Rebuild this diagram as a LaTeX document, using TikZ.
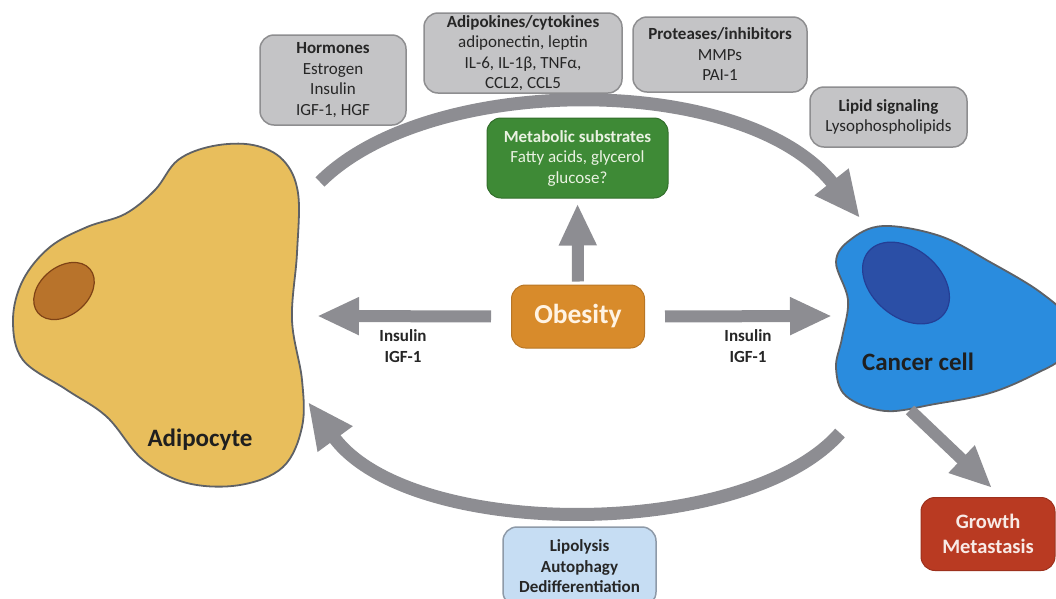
\documentclass[tikz,border=0pt]{standalone}
\usepackage{fontspec}
\setmainfont{Carlito}
\usetikzlibrary{arrows.meta}

\definecolor{arrowgray}{HTML}{8D8D92}
\definecolor{boxgray}{HTML}{C4C4C6}
\definecolor{boxedge}{HTML}{8E8E90}
\definecolor{textdark}{HTML}{262626}
\definecolor{adipofill}{HTML}{E8BE5C}
\definecolor{celledge}{HTML}{5E6166}
\definecolor{adiponuc}{HTML}{B8732B}
\definecolor{adiponucedge}{HTML}{7E4216}
\definecolor{cancerfill}{HTML}{2A8CDE}
\definecolor{cancernuc}{HTML}{2B4FA6}
\definecolor{cancernucedge}{HTML}{243E95}
\definecolor{greenbox}{HTML}{3E8A36}
\definecolor{greentext}{HTML}{EAF2E2}
\definecolor{orangebox}{HTML}{D88B2B}
\definecolor{orangetext}{HTML}{FFF3E3}
\definecolor{redbox}{HTML}{B93A22}
\definecolor{redtext}{HTML}{F8EAE6}
\definecolor{bluebox}{HTML}{C6DDF3}
\definecolor{blueedge}{HTML}{8E9AA8}

\begin{document}
\begin{tikzpicture}[x=1pt,y=-1pt,
  smalltext/.style={font=\fontsize{17}{20.5}\selectfont},
  smallbold/.style={font=\fontsize{17}{20.5}\selectfont\bfseries},
  infobox/.style={smalltext, draw=boxedge, fill=boxgray, line width=1.5pt,
    rounded corners=14pt, align=center, text=textdark, inner sep=0pt},
  flow/.style={draw=arrowgray, line width=12pt, -{Triangle[length=42pt,width=35pt]}},
  loop/.style={draw=arrowgray, line width=13pt, -{Triangle[length=46pt,width=40pt]}},
  celllabel/.style={font=\fontsize{25}{30}\selectfont\bfseries, text=black!88}
]
\useasboundingbox (0,0) rectangle (1056,598);
\clip (0,0) rectangle (1056,598);

% adipocyte body and nucleus
\draw[fill=adipofill, draw=celledge, line width=1.8pt]
  plot[smooth cycle, tension=0.6] coordinates {
    (178,160) (213,146) (253,145) (283,160) (298,193) (297,253) (292,320)
    (302,380) (302,427) (283,467) (240,485) (187,483) (143,460) (107,417)
    (67,390) (23,360) (13,320) (23,280) (50,247) (87,227) (125,214) (155,190)};
\draw[fill=adiponuc, draw=adiponucedge, line width=1.2pt]
  (64,291) ellipse[x radius=34pt, y radius=24pt, rotate=40];
\node[celllabel] (adipo) at (200,440) {Adipocyte};

% cancer cell body and nucleus
\draw[fill=cancerfill, draw=celledge, line width=1.8pt]
  plot[smooth cycle, tension=0.6] coordinates {
    (883,226) (850,240) (836,262) (848,300) (842,338) (836,368) (846,396)
    (885,411) (935,404) (990,393) (1035,374) (1064,355) (1068,320)
    (1040,292) (990,262) (940,236)};
\draw[fill=cancernuc, draw=cancernucedge, line width=1.2pt]
  (906,283) ellipse[x radius=49pt, y radius=34pt, rotate=-40];
\node[celllabel] (cancer) at (918,362) {Cancer cell};

% anchor points on the two cells
\coordinate (adipoTop) at (320,182);
\coordinate (cancerTop) at (860,218);
\coordinate (cancerBottom) at (840,433);
\coordinate (adipoBottom) at (308,402);
\coordinate (adipoSide) at (317,316);
\coordinate (cancerSide) at (832,316);
\coordinate (cancerFoot) at (910,410);

% secreted factors
\node[infobox, minimum width=146pt, minimum height=90pt] (hormones) at (333,80)
  {\textbf{Hormones}\\Estrogen\\Insulin\\IGF-1, HGF};
\node[infobox, minimum width=198pt, minimum height=80pt] (adipokines) at (523,53)
  {\textbf{Adipokines/cytokines}\\adiponectin, leptin\\IL-6, IL-1β, TNFα,\\CCL2, CCL5};
\node[infobox, minimum width=174pt, minimum height=75pt] (proteases) at (720,54.5)
  {\textbf{Proteases/inhibitors}\\MMPs\\PAI-1};
\node[infobox, minimum width=157pt, minimum height=60pt] (lipid) at (888.5,117)
  {\textbf{Lipid signaling}\\Lysophospholipids};

% central boxes
\node[smalltext, fill=greenbox, draw=greenbox!80!black, line width=1pt,
  rounded corners=14pt, align=center, text=greentext, inner sep=0pt,
  minimum width=181pt, minimum height=80pt] (metab) at (577.5,158)
  {\textbf{Metabolic substrates}\\Fatty acids, glycerol\\glucose?};
\node[fill=orangebox, draw=orangebox!85!black, line width=1pt, rounded corners=14pt,
  text=orangetext, inner sep=0pt, minimum width=133pt, minimum height=63pt,
  font=\fontsize{27.5}{32}\selectfont\bfseries] (obesity) at (578,316.5) {Obesity};
\node[fill=redbox, draw=redbox!85!black, line width=1pt, rounded corners=14pt,
  text=redtext, inner sep=0pt, minimum width=134pt, minimum height=73pt, align=center,
  font=\fontsize{20.5}{25}\selectfont\bfseries] (growth) at (988,534)
  {Growth\\Metastasis};
\node[smallbold, fill=bluebox, draw=blueedge, line width=1.5pt, rounded corners=14pt,
  text=textdark, inner sep=0pt, align=center,
  minimum width=153pt, minimum height=79pt] (lipo) at (579.5,566.5)
  {Lipolysis\\Autophagy\\Dedifferentiation};

% straight arrows out of the obesity box
\draw[flow, shorten <=3pt, shorten >=5pt] (obesity.north) -- (metab.south);
\draw[flow, shorten <=20pt] (obesity.west) -- (adipoSide);
\draw[flow, shorten <=20pt] (obesity.east) -- (cancerSide);
\draw[flow] (cancerFoot) -- ([xshift=4pt,yshift=9pt]growth.north);

% labels on the side arrows
\node[smallbold, align=center, text=textdark] (insL) at (403,346)
  {Insulin\\IGF-1};
\node[smallbold, align=center, text=textdark] (insR) at (748,346)
  {Insulin\\IGF-1};

% curved exchange arrows between the cells
\draw[loop] (adipoTop) .. controls (430,72) and (745,72) .. (cancerTop);
\draw[loop] (cancerBottom) .. controls (745,541) and (410,541) .. (adipoBottom);
\end{tikzpicture}
\end{document}
